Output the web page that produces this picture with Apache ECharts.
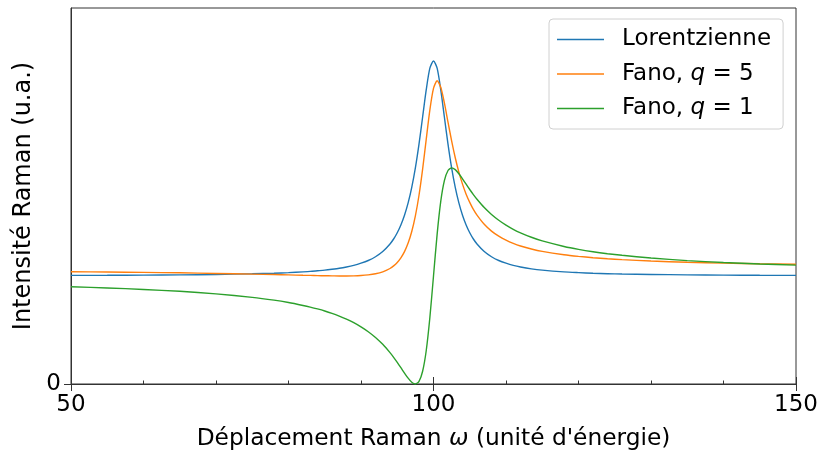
<!DOCTYPE html>
<html>
<head>
<meta charset="utf-8">
<script src="https://cdn.jsdelivr.net/npm/echarts@6/dist/echarts.min.js"></script>
<style>
html,body{margin:0;padding:0;background:#fff;}
#c{width:820px;height:452px;}
</style>
</head>
<body>
<div id="c"></div>
<script>
const xs = [50,55,60,65,70,75,78,80,82,83,84,85,86,87,88,89,90,91,92,93,94,94.5,95,95.5,96,96.5,97,97.5,98,98.5,99,99.5,100,100.5,101,101.5,102,102.5,103,103.5,104,104.5,105,105.5,106,107,108,109,110,111,112,113.5,115,118,120,122,124,126,130,135,140,145,150];
const lorentz = [1.005,1.006,1.008,1.010,1.014,1.020,1.025,1.031,1.038,1.042,1.048,1.054,1.062,1.071,1.083,1.098,1.118,1.143,1.178,1.226,1.296,1.342,1.400,1.472,1.562,1.676,1.820,2.000,2.220,2.471,2.724,2.923,2.990,2.923,2.724,2.471,2.220,2.000,1.820,1.676,1.562,1.472,1.400,1.342,1.296,1.226,1.178,1.143,1.118,1.098,1.083,1.066,1.054,1.038,1.031,1.025,1.021,1.018,1.014,1.010,1.008,1.006,1.005];
const fano5 = [1.039,1.036,1.033,1.029,1.023,1.017,1.013,1.010,1.006,1.005,1.003,1.002,1.001,1.000,1.000,1.001,1.004,1.010,1.020,1.038,1.069,1.093,1.125,1.168,1.225,1.304,1.411,1.556,1.747,1.989,2.267,2.538,2.736,2.806,2.746,2.601,2.424,2.250,2.094,1.961,1.850,1.757,1.681,1.616,1.563,1.478,1.415,1.368,1.331,1.301,1.277,1.249,1.227,1.196,1.181,1.169,1.159,1.151,1.138,1.127,1.119,1.113,1.108];
const fano1 = [0.900,0.889,0.875,0.858,0.834,0.802,0.776,0.754,0.727,0.712,0.695,0.676,0.654,0.629,0.601,0.568,0.529,0.484,0.431,0.367,0.290,0.247,0.200,0.151,0.101,0.054,0.016,0.000,0.024,0.118,0.310,0.615,1.000,1.385,1.690,1.882,1.976,2.000,1.984,1.946,1.899,1.849,1.800,1.753,1.710,1.633,1.569,1.516,1.471,1.432,1.399,1.358,1.324,1.273,1.246,1.224,1.206,1.191,1.166,1.142,1.125,1.111,1.100];
const seriesNames = ['Lorentzienne', 'Fano, q = 5', 'Fano, q = 1'];
const xTicks = [50, 100, 150];
const yTicks = [0];

const FONT = 'DejaVu Sans';
const AX = '#333333';
function pairs(ys){ return xs.map((x,i)=>[x, ys[i]]); }

const chart = echarts.init(document.getElementById('c'), null, {renderer:'canvas'});
chart.setOption({
  animation: false,
  backgroundColor: '#ffffff',
  textStyle: {fontFamily: FONT, color: '#000'},
  grid: {left: 71, right: 24, top: 8, bottom: 68, containLabel: false, outerBoundsMode: 'none',
    show: true, borderColor: AX, borderWidth: 1, backgroundColor: 'transparent'},
  legend: {
    orient: 'vertical', left: 549, top: 19,
    padding: [7, 12, 7, 8],
    itemGap: 7.5, itemWidth: 47, itemHeight: 1.6, icon: 'rect',
    backgroundColor: 'rgba(255,255,255,0.85)', borderColor: '#d0d0d0', borderWidth: 1, borderRadius: 4,
    data: seriesNames,
    formatter: function(n){ return n.replace('q', '{i|q}'); },
    textStyle: {fontFamily: FONT, fontSize: 23, color: '#000', lineHeight: 27, padding: [0,0,0,13],
      rich: {i: {fontFamily: FONT, fontSize: 23, fontStyle: 'italic', color: '#000', lineHeight: 27}}}
  },
  xAxis: [{
    type: 'value', min: 50, max: 150, interval: 50,
    name: 'Déplacement Raman {i|ω} (unité d\'énergie)', nameLocation: 'middle', nameGap: 43,
    nameTextStyle: {fontFamily: FONT, fontSize: 23.3, color: '#000',
      rich: {i: {fontFamily: FONT, fontSize: 23.3, fontStyle: 'italic', color: '#000'}}},
    axisLine: {show: true, lineStyle: {color: AX, width: 1}},
    axisTick: {show: true, inside: false, length: 7, customValues: xTicks, lineStyle: {color: AX, width: 1}},
    axisLabel: {show: true, fontFamily: FONT, fontSize: 23, color: '#000', margin: 10, customValues: xTicks},
    splitLine: {show: false}
  }, {
    type: 'value', min: 50, max: 150, interval: 50, position: 'bottom', offset: 0,
    axisLine: {show: false},
    axisTick: {show: true, inside: true, length: 7, lineStyle: {color: AX, width: 1}},
    minorTick: {show: true, splitNumber: 5, length: 3.5, lineStyle: {color: AX, width: 1}},
    axisLabel: {show: false},
    splitLine: {show: false}
  }],
  yAxis: {
    type: 'value', min: 0, max: 3.48,
    name: 'Intensité Raman (u.a.)', nameLocation: 'middle', nameGap: 24,
    nameTextStyle: {fontFamily: FONT, fontSize: 24, color: '#000'},
    axisLine: {show: true, lineStyle: {color: AX, width: 1}},
    axisTick: {show: true, inside: false, length: 7, customValues: yTicks, lineStyle: {color: AX, width: 1}},
    axisLabel: {show: true, fontFamily: FONT, fontSize: 23, color: '#000', margin: 10, customValues: yTicks},
    splitLine: {show: false}
  },
  series: [
    {name: seriesNames[0], type: 'line', xAxisIndex: 0, data: pairs(lorentz), smooth: 0.25, showSymbol: false, symbol: 'none', lineStyle: {color: '#1f77b4', width: 1.4}, itemStyle: {color: '#1f77b4'}},
    {name: seriesNames[1], type: 'line', xAxisIndex: 0, data: pairs(fano5), smooth: 0.25, showSymbol: false, symbol: 'none', lineStyle: {color: '#ff7f0e', width: 1.4}, itemStyle: {color: '#ff7f0e'}},
    {name: seriesNames[2], type: 'line', xAxisIndex: 0, data: pairs(fano1), smooth: 0.25, showSymbol: false, symbol: 'none', lineStyle: {color: '#2ca02c', width: 1.4}, itemStyle: {color: '#2ca02c'}}
  ]
});
</script>
</body>
</html>
